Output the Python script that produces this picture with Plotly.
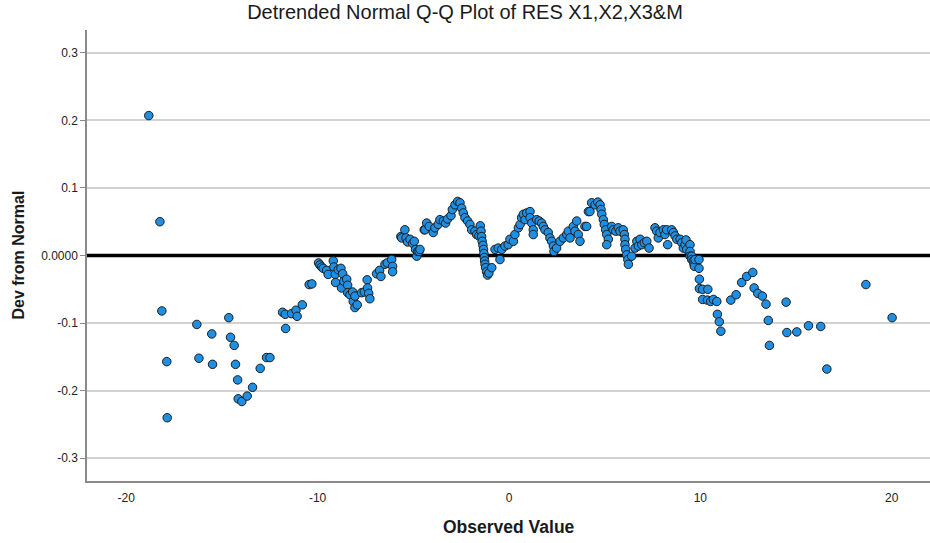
import plotly.graph_objects as go

# observed residual value and its deviation from the normal line
observed = [
    -18.82, -18.24, -18.14, -17.88, -17.86, -16.31, -16.20, -15.53, -15.49, -14.64,
    -14.55, -14.36, -14.29, -14.18, -14.15, -13.96, -13.68, -13.40, -13.00, -12.67,
    -12.49, -11.83, -11.69, -11.67, -11.36, -11.13, -11.07, -10.80, -10.44, -10.30,
    -9.95, -9.88, -9.79, -9.71, -9.53, -9.45, -9.18, -9.15, -9.08, -9.06,
    -8.92, -8.78, -8.75, -8.69, -8.63, -8.48, -8.43, -8.43, -8.31, -8.17,
    -8.14, -8.05, -8.05, -7.93, -7.70, -7.56, -7.41, -7.39, -7.33, -7.27,
    -6.92, -6.76, -6.69, -6.48, -6.36, -6.13, -6.08, -6.08, -5.65, -5.61,
    -5.44, -5.38, -5.30, -5.17, -5.03, -4.95, -4.88, -4.82, -4.77, -4.70,
    -4.65, -4.43, -4.39, -4.30, -4.17, -3.96, -3.87, -3.70, -3.61, -3.43,
    -3.31, -3.21, -3.03, -2.96, -2.82, -2.68, -2.56, -2.47, -2.39, -2.30,
    -2.16, -2.04, -1.95, -1.78, -1.69, -1.57, -1.50, -1.46, -1.43, -1.40,
    -1.36, -1.33, -1.31, -1.29, -1.27, -1.25, -1.22, -1.17, -1.12, -1.05,
    -0.90, -0.73, -0.56, -0.47, -0.38, -0.21, -0.04, 0.05, 0.23, 0.31,
    0.49, 0.58, 0.66, 0.75, 0.84, 0.93, 1.10, 1.10, 1.19, 1.27,
    1.27, 1.45, 1.58, 1.71, 1.79, 1.88, 2.05, 2.14, 2.23, 2.32,
    2.35, 2.49, 2.67, 2.84, 3.02, 3.10, 3.19, 3.36, 3.45, 3.54,
    3.62, 3.71, 3.97, 4.06, 4.15, 4.23, 4.32, 4.50, 4.64, 4.76,
    4.81, 4.85, 4.93, 4.98, 5.05, 5.11, 5.19, 5.11, 5.37, 5.45,
    5.58, 5.71, 5.80, 5.97, 6.03, 6.06, 6.06, 6.10, 6.15, 6.21,
    6.24, 6.41, 6.59, 6.68, 6.76, 6.85, 6.94, 7.07, 7.20, 7.32,
    7.63, 7.72, 7.80, 7.89, 8.07, 8.15, 8.24, 8.29, 8.50, 8.59,
    8.68, 8.77, 8.94, 9.03, 9.11, 9.20, 9.25, 9.29, 9.46, 9.46,
    9.46, 9.55, 9.55, 9.63, 9.67, 9.69, 9.72, 9.93, 9.93, 9.95,
    9.95, 10.12, 10.39, 10.12, 10.37, 10.54, 10.68, 10.86, 10.89, 10.99,
    11.07, 11.59, 11.87, 12.16, 12.42, 12.74, 12.81, 13.00, 13.24, 13.43,
    13.55, 13.61, 14.48, 14.52, 15.04, 15.65, 16.29, 16.61, 18.65, 20.02,
]
deviation = [
    0.207, 0.050, -0.082, -0.157, -0.240, -0.102, -0.152, -0.116, -0.161, -0.092,
    -0.121, -0.133, -0.161, -0.184, -0.212, -0.216, -0.208, -0.195, -0.167, -0.151,
    -0.151, -0.084, -0.087, -0.108, -0.086, -0.081, -0.090, -0.073, -0.043, -0.042,
    -0.011, -0.014, -0.017, -0.019, -0.022, -0.028, -0.008, -0.017, -0.028, -0.040,
    -0.021, -0.019, -0.048, -0.027, -0.038, -0.035, -0.044, -0.055, -0.058, -0.054,
    -0.068, -0.077, -0.060, -0.073, -0.055, -0.054, -0.036, -0.048, -0.056, -0.064,
    -0.027, -0.022, -0.031, -0.013, -0.011, -0.006, -0.016, -0.024, 0.028, 0.026,
    0.038, 0.026, 0.020, 0.024, 0.018, 0.021, 0.009, -0.001, 0.006, 0.006,
    0.009, 0.038, 0.038, 0.048, 0.043, 0.034, 0.041, 0.046, 0.053, 0.051,
    0.048, 0.054, 0.059, 0.068, 0.075, 0.080, 0.078, 0.070, 0.063, 0.056,
    0.051, 0.046, 0.038, 0.036, 0.031, 0.029, 0.044, 0.036, 0.028, 0.021,
    0.015, 0.009, 0.003, -0.003, -0.008, -0.013, -0.018, -0.024, -0.029, -0.026,
    -0.018, 0.009, 0.011, -0.006, 0.009, 0.014, 0.016, 0.024, 0.021, 0.031,
    0.041, 0.046, 0.056, 0.061, 0.053, 0.063, 0.065, 0.056, 0.048, 0.038,
    0.031, 0.053, 0.051, 0.048, 0.043, 0.038, 0.034, 0.026, 0.021, 0.014,
    0.006, 0.011, 0.021, 0.026, 0.031, 0.036, 0.026, 0.043, 0.036, 0.051,
    0.031, 0.021, 0.043, 0.043, 0.065, 0.065, 0.078, 0.075, 0.079, 0.075,
    0.068, 0.061, 0.053, 0.046, 0.038, 0.031, 0.024, 0.016, 0.043, 0.038,
    0.036, 0.041, 0.036, 0.038, 0.031, 0.024, 0.016, 0.009, 0.001, -0.006,
    -0.013, -0.001, 0.011, 0.021, 0.014, 0.024, 0.016, 0.019, 0.021, 0.011,
    0.041, 0.036, 0.026, 0.034, 0.038, 0.031, 0.038, 0.016, 0.038, 0.034,
    0.029, 0.024, 0.024, 0.019, 0.011, 0.016, 0.023, 0.009, 0.016, 0.006,
    -0.001, -0.001, -0.006, -0.008, -0.013, -0.016, -0.006, -0.006, -0.019, -0.035,
    -0.049, -0.050, -0.050, -0.065, -0.066, -0.068, -0.065, -0.068, -0.087, -0.098,
    -0.112, -0.066, -0.058, -0.040, -0.031, -0.025, -0.048, -0.056, -0.060, -0.072,
    -0.096, -0.133, -0.069, -0.114, -0.113, -0.104, -0.105, -0.168, -0.043, -0.092,
]

y_ticks = [0.3, 0.2, 0.1, 0.0, -0.1, -0.2, -0.3]
y_tick_text = ["0.3", "0.2", "0.1", "0.0000", "-0.1", "-0.2", "-0.3"]
x_ticks = [-20, -10, 0, 10, 20]
x_tick_text = ["-20", "-10", "0", "10", "20"]
x_range = [-22.05, 22.0]

FONT = "Liberation Sans, Arial, sans-serif"

fig = go.Figure()

# reference line at zero deviation, under the points
fig.add_trace(go.Scatter(
    x=x_range, y=[0, 0], mode="lines",
    line=dict(color="black", width=3.5),
    showlegend=False, hoverinfo="skip",
))

fig.add_trace(go.Scatter(
    x=observed, y=deviation, mode="markers",
    marker=dict(size=8.5, color="#1f8fe3", line=dict(color="#1c1c1c", width=1)),
    showlegend=False, hoverinfo="x+y",
))

fig.update_layout(
    width=930, height=543,
    margin=dict(l=87, r=0, t=30, b=62),
    paper_bgcolor="white", plot_bgcolor="white",
    font=dict(family=FONT, color="#222222", size=12),
    title=dict(text="Detrended Normal Q-Q Plot of RES X1,X2,X3&M",
               x=0.5, xref="container", xanchor="center",
               y=1 - 12 / 543, yref="container", yanchor="middle",
               font=dict(size=20, color="#1a1a1a")),
    showlegend=False,
)

fig.update_xaxes(
    range=x_range, tickvals=x_ticks, ticktext=x_tick_text,
    showgrid=False, zeroline=False,
    showline=True, linecolor="#8a8a8a", linewidth=1.5,
    ticks="outside", ticklen=5, tickcolor="rgba(0,0,0,0)",
    tickfont=dict(size=12, color="#222222"),
)
fig.update_yaxes(
    range=[-0.3336, 0.3336], tickvals=y_ticks, ticktext=y_tick_text,
    showgrid=True, gridcolor="#d2d2d2", gridwidth=1.5, zeroline=False,
    showline=True, linecolor="#8a8a8a", linewidth=1.5,
    ticks="outside", ticklen=5, tickcolor="#8a8a8a",
    tickfont=dict(size=12, color="#222222"),
)

fig.add_annotation(text="<b>Observed Value</b>", xref="paper", yref="paper",
                   x=0.5, y=(481 - 527) / 451, xanchor="center", yanchor="middle",
                   showarrow=False, font=dict(size=17.5, color="#1a1a1a"))
fig.add_annotation(text="<b>Dev from Normal</b>", xref="paper", yref="paper",
                   x=(18 - 87) / 843, y=0.5, xanchor="center", yanchor="middle",
                   textangle=-90, showarrow=False,
                   font=dict(size=16, color="#1a1a1a"))

# drop the default page margin so the figure sits at the window corner
fig.write_html("out.html", config={"displayModeBar": False},
               post_script="document.body.style.margin = '0';")
